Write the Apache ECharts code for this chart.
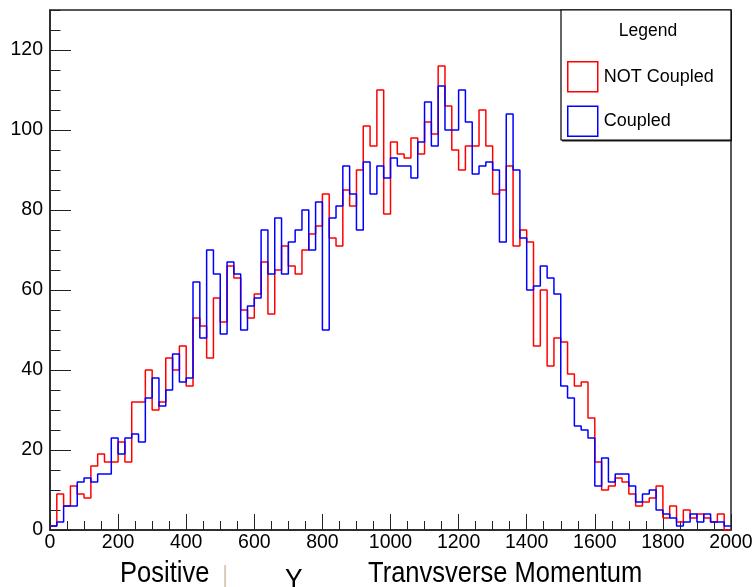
<!DOCTYPE html>
<html>
<head>
<meta charset="utf-8">
<script src="https://cdn.jsdelivr.net/npm/echarts@6/dist/echarts.min.js"></script>
<style>
  html, body { margin: 0; padding: 0; background: #fff; }
  #chart { width: 756px; height: 587px; }
</style>
</head>
<body>
<div id="chart"></div>
<script>
// Histogram binning: 100 bins of width 20 spanning 0..2000
const binWidth = 20;
const xRange = [0, 2000];
const yRange = [0, 130];

// Bin contents, "NOT Coupled" sample
const notCoupled = [
  1, 9, 6, 11, 9, 8, 16, 19, 17, 17,
  22, 17, 32, 32, 40, 30, 32, 43, 40, 46,
  36, 53, 51, 43, 58, 52, 66, 63, 55, 53,
  59, 67, 54, 65, 71, 66, 64, 70, 74, 76,
  84, 73, 71, 85, 81, 90, 101, 96, 110, 79,
  97, 94, 93, 98, 94, 102, 99, 116, 106, 95,
  90, 96, 96, 105, 96, 84, 85, 91, 71, 75,
  72, 46, 60, 41, 48, 47, 39, 36, 37, 28,
  17, 10, 11, 13, 12, 9, 6, 7, 8, 11,
  3, 6, 2, 5, 3, 4, 3, 2, 4, 0
];

// Bin contents, "Coupled" sample
const coupled = [
  1, 2, 6, 6, 12, 13, 12, 14, 14, 23,
  19, 23, 24, 22, 33, 38, 31, 35, 44, 37,
  38, 62, 48, 70, 64, 49, 67, 64, 50, 56,
  58, 75, 64, 78, 64, 72, 75, 80, 70, 82,
  50, 78, 81, 91, 84, 75, 92, 84, 91, 88,
  93, 91, 91, 88, 97, 107, 96, 111, 100, 100,
  110, 102, 89, 91, 92, 90, 72, 104, 90, 73,
  60, 61, 66, 63, 59, 36, 33, 26, 25, 23,
  11, 18, 12, 14, 14, 11, 7, 9, 10, 5,
  4, 3, 1, 2, 4, 2, 4, 2, 2, 1
];

const seriesNames = ['NOT Coupled', 'Coupled'];
const seriesColors = ['#ff0000', '#0000ff'];
const legendTitle = 'Legend';
const titleParts = ['Positive', 'Y', 'Tranvsverse Momentum'];

const FONT = "'Liberation Sans', Arial, Helvetica, sans-serif";

// Each bin becomes a step starting at its low edge; the last point closes the final bin.
function toSteps(values) {
  const pts = values.map((v, i) => [xRange[0] + i * binWidth, v]);
  pts.push([xRange[0] + values.length * binWidth, values[values.length - 1]]);
  return pts;
}

const plainNumber = (v) => String(v);

const chart = echarts.init(document.getElementById('chart'), null, { renderer: 'canvas' });

const axisColor = '#222';

chart.setOption({
  animation: false,
  backgroundColor: '#fff',
  grid: {
    left: 50, right: 25, top: 10, bottom: 57,
    show: true, borderColor: axisColor, borderWidth: 1.5, backgroundColor: '#fff'
  },
  xAxis: [
    {
      type: 'value', min: xRange[0], max: xRange[1], interval: 200,
      axisLine: { show: true, onZero: false, lineStyle: { color: axisColor, width: 1.5 } },
      axisTick: { show: true, inside: true, length: 16, lineStyle: { color: axisColor, width: 1 } },
      axisLabel: { fontSize: 19.5, color: '#000', fontFamily: FONT, margin: 3, formatter: plainNumber },
      splitLine: { show: false }
    },
    {
      type: 'value', min: xRange[0], max: xRange[1], interval: 50, position: 'bottom',
      axisLine: { show: false },
      axisTick: { show: true, inside: true, length: 9, lineStyle: { color: axisColor, width: 1 } },
      axisLabel: { show: false },
      splitLine: { show: false }
    }
  ],
  yAxis: [
    {
      type: 'value', min: yRange[0], max: yRange[1], interval: 20,
      axisLine: { show: true, onZero: false, lineStyle: { color: axisColor, width: 1.5 } },
      axisTick: { show: true, inside: true, length: 21, lineStyle: { color: axisColor, width: 1 } },
      axisLabel: { fontSize: 19.5, color: '#000', fontFamily: FONT, margin: 7, showMaxLabel: false, formatter: plainNumber },
      splitLine: { show: false }
    },
    {
      type: 'value', min: yRange[0], max: yRange[1], interval: 5, position: 'left', offset: 0,
      axisLine: { show: false },
      axisTick: { show: true, inside: true, length: 10.5, lineStyle: { color: axisColor, width: 1 } },
      axisLabel: { show: false },
      splitLine: { show: false }
    }
  ],
  legend: {
    orient: 'vertical',
    left: 567, top: 61,
    itemWidth: 30, itemHeight: 30, itemGap: 13,
    padding: 0,
    icon: 'rect',
    z: 10,
    selectedMode: false,
    textStyle: { fontSize: 18, color: '#000', fontFamily: FONT, padding: [0, 0, 0, 1] },
    data: seriesNames.map((name, i) => ({
      name,
      itemStyle: { color: 'rgba(255,255,255,0)', borderColor: seriesColors[i], borderWidth: 1.5 }
    }))
  },
  series: [notCoupled, coupled].map((vals, i) => ({
    name: seriesNames[i],
    type: 'line',
    step: 'end',
    xAxisIndex: 0,
    yAxisIndex: 0,
    symbol: 'none',
    clip: true,
    data: toSteps(vals),
    lineStyle: { color: seriesColors[i], width: 1.5 },
    itemStyle: { color: seriesColors[i] },
    z: 2 + i
  })),
  graphic: [
    // legend frame with drop shadow
    { type: 'rect', z: 5, shape: { x: 562, y: 11.5, width: 170, height: 130 },
      style: { fill: '#222', stroke: null } },
    { type: 'rect', z: 6, shape: { x: 561, y: 10, width: 170, height: 130 },
      style: { fill: '#fff', stroke: '#000', lineWidth: 1.2 } },
    { type: 'text', z: 7, x: 648, y: 31,
      style: { text: legendTitle, fill: '#000', font: '17.5px ' + FONT, align: 'center', verticalAlign: 'middle' } },
    // x-axis title
    { type: 'text', z: 7, x: 120, y: 574, scaleX: 0.88,
      style: { text: titleParts[0], fill: '#000', font: '29px ' + FONT, align: 'left', verticalAlign: 'middle' } },
    { type: 'text', z: 7, x: 222, y: 575,
      style: { text: '|', fill: '#d9cabb', font: '24px ' + FONT, align: 'left', verticalAlign: 'middle' } },
    { type: 'text', z: 7, x: 285, y: 581, scaleX: 0.88,
      style: { text: titleParts[1], fill: '#000', font: '30px ' + FONT, align: 'left', verticalAlign: 'middle' } },
    { type: 'text', z: 7, x: 368, y: 574, scaleX: 0.88,
      style: { text: titleParts[2], fill: '#000', font: '29px ' + FONT, align: 'left', verticalAlign: 'middle' } }
  ]
});
</script>
</body>
</html>
